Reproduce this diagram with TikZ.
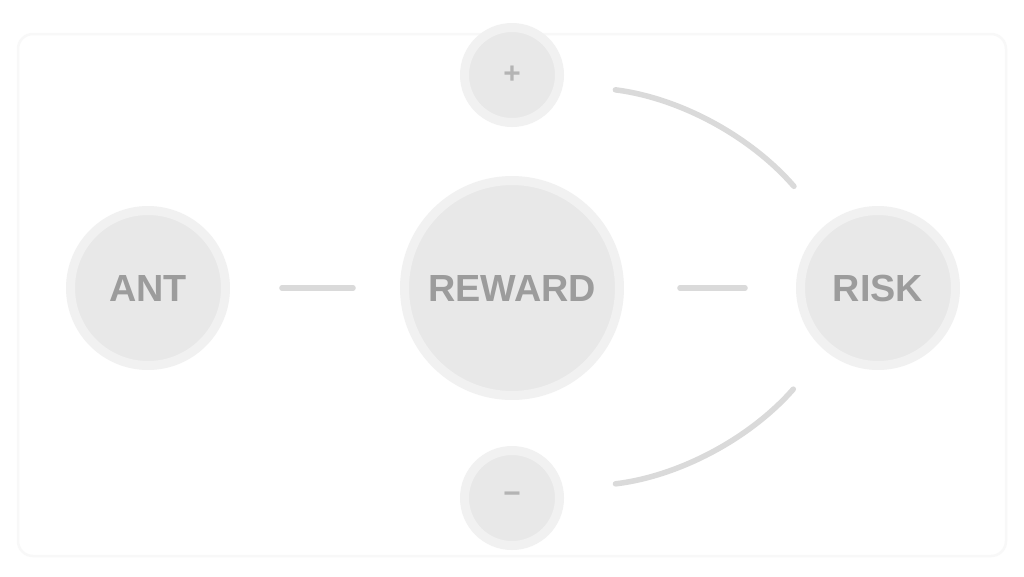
\documentclass[tikz,border=0pt]{standalone}
\usepackage{fontspec}
\setmainfont{Liberation Sans}
\definecolor{circfill}{HTML}{E8E8E8}
\definecolor{circhalo}{HTML}{F1F1F1}
\definecolor{labelgray}{HTML}{9C9C9C}
\definecolor{smalllabel}{HTML}{B4B4B4}
\definecolor{linegray}{HTML}{DADADA}
\definecolor{framegray}{HTML}{F8F8F8}
\begin{document}
\begin{tikzpicture}[x=0.02cm,y=-0.02cm,
  bigcirc/.style={circle,fill=circfill,draw=circhalo,line width=0.18cm,inner sep=0pt,
     text=labelgray,font=\fontsize{21.5}{24}\selectfont\bfseries},
  smallcirc/.style={circle,fill=circfill,draw=circhalo,line width=0.18cm,inner sep=0pt,
     minimum size=1.9cm,text=smalllabel,font=\fontsize{17}{19}\selectfont\bfseries},
  conn/.style={draw=linegray,line width=0.11cm,line cap=round}]
\useasboundingbox (0,0) rectangle (1024,576);
\fill[white] (0,0) rectangle (1024,576);
\draw[framegray,line width=0.05cm,rounded corners=0.3cm] (18,34) rectangle (1006,556);
\node[bigcirc,minimum size=3.1cm] (ant) at (148,288) {ANT};
\node[bigcirc,minimum size=4.3cm] (reward) at (512,288) {REWARD};
\node[bigcirc,minimum size=3.1cm] (risk) at (878,288) {RISK};
\node[smallcirc] (up) at (512,75) {+};
\node[smallcirc] (down) at (512,498) {−};
\draw[conn,shorten <=1.04cm,shorten >=0.94cm] (ant) -- (reward);
\draw[conn,shorten <=1.12cm,shorten >=1.02cm] (reward) -- (risk);
\draw[conn,shorten <=1.05cm,shorten >=1.0cm] (up) to[bend left=21] (risk);
\draw[conn,shorten <=1.05cm,shorten >=1.0cm] (down) to[bend right=21] (risk);
\end{tikzpicture}
\end{document}
